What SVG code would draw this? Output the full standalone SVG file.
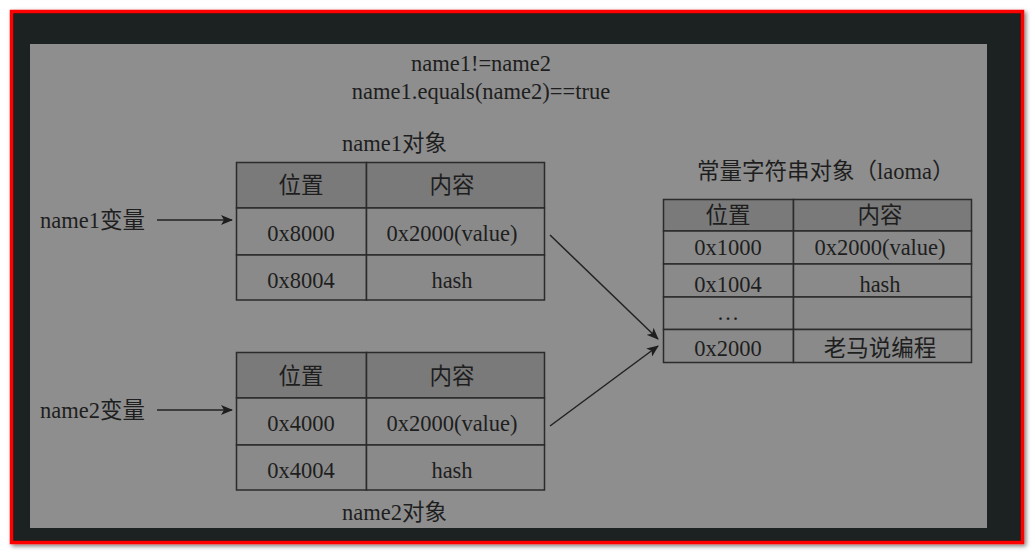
<svg xmlns="http://www.w3.org/2000/svg" width="1035" height="555" viewBox="0 0 1035 555">
<defs>
<style>
.t{font-family:"Liberation Serif","Noto Sans CJK SC",serif;font-size:22.5px;fill:#1e1e1e;text-anchor:middle}
.tl{font-family:"Liberation Serif","Noto Sans CJK SC",serif;font-size:22.5px;fill:#1e1e1e}
.hd{fill:#7a7a7a;stroke:#2b2b2b;stroke-width:1.5}
.cell{fill:#8a8a8a;stroke:#2b2b2b;stroke-width:1.5}
.ln{stroke:#222;stroke-width:1.5;fill:none}
</style>
<marker id="ah" markerWidth="12" markerHeight="10" refX="11" refY="5" orient="auto" markerUnits="userSpaceOnUse">
<path d="M0,0 L12,5 L0,10 L3,5 Z" fill="#1e1e1e"/>
</marker>
<filter id="sh" x="-5%" y="-5%" width="110%" height="110%"><feDropShadow dx="2" dy="2" stdDeviation="2" flood-color="#000" flood-opacity="0.5"/></filter>
</defs>
<rect width="1035" height="555" fill="#ffffff"/>
<rect x="11.5" y="11.5" width="1011" height="531" fill="#1f2022" stroke="#ff0000" stroke-width="3.5" filter="url(#sh)"/>
<rect x="30" y="44" width="957" height="484" fill="#8e8e8e"/>

<g id="title">
<text class="t" x="481" y="71">name1!=name2</text>
<text class="t" x="481" y="99">name1.equals(name2)==true</text>
</g>

<g id="name1obj">
<text class="tl" x="342" y="151">name1对象</text>
<rect class="hd" x="236.5" y="162.5" width="130" height="45.5"/>
<rect class="hd" x="366.5" y="162.5" width="178" height="45.5"/>
<rect class="cell" x="236.5" y="208" width="130" height="47"/>
<rect class="cell" x="366.5" y="208" width="178" height="47"/>
<rect class="cell" x="236.5" y="255" width="130" height="45"/>
<rect class="cell" x="366.5" y="255" width="178" height="45"/>
<text class="t" x="301" y="193">位置</text>
<text class="t" x="452" y="193">内容</text>
<text class="t" x="301" y="241">0x8000</text>
<text class="t" x="452" y="241">0x2000(value)</text>
<text class="t" x="301" y="288">0x8004</text>
<text class="t" x="452" y="288">hash</text>
</g>

<g id="name2obj">
<rect class="hd" x="236.5" y="352.5" width="130" height="45.5"/>
<rect class="hd" x="366.5" y="352.5" width="178" height="45.5"/>
<rect class="cell" x="236.5" y="398" width="130" height="47"/>
<rect class="cell" x="366.5" y="398" width="178" height="47"/>
<rect class="cell" x="236.5" y="445" width="130" height="45"/>
<rect class="cell" x="366.5" y="445" width="178" height="45"/>
<text class="t" x="301" y="384">位置</text>
<text class="t" x="452" y="384">内容</text>
<text class="t" x="301" y="431">0x4000</text>
<text class="t" x="452" y="431">0x2000(value)</text>
<text class="t" x="301" y="478">0x4004</text>
<text class="t" x="452" y="478">hash</text>
<text class="tl" x="342" y="520">name2对象</text>
</g>

<g id="var1"><text class="tl" x="40" y="228">name1变量</text></g>
<g id="var2"><text class="tl" x="40" y="418">name2变量</text></g>

<g id="strobj">
<text class="tl" x="697" y="179">常量字符串对象（laoma）</text>
<rect class="hd" x="663.5" y="199.5" width="130" height="31.5"/>
<rect class="hd" x="793.5" y="199.5" width="178" height="31.5"/>
<rect class="cell" x="663.5" y="231" width="130" height="33"/>
<rect class="cell" x="793.5" y="231" width="178" height="33"/>
<rect class="cell" x="663.5" y="264" width="130" height="33"/>
<rect class="cell" x="793.5" y="264" width="178" height="33"/>
<rect class="cell" x="663.5" y="297" width="130" height="32.5"/>
<rect class="cell" x="793.5" y="297" width="178" height="32.5"/>
<rect class="cell" x="663.5" y="329.5" width="130" height="33"/>
<rect class="cell" x="793.5" y="329.5" width="178" height="33"/>
<text class="t" x="728" y="223">位置</text>
<text class="t" x="880" y="223">内容</text>
<text class="t" x="728" y="255">0x1000</text>
<text class="t" x="880" y="255">0x2000(value)</text>
<text class="t" x="728" y="292">0x1004</text>
<text class="t" x="880" y="292">hash</text>
<text class="t" x="728" y="320">…</text>
<text class="t" x="728" y="356">0x2000</text>
<text class="t" x="880" y="356">老马说编程</text>
</g>

<g id="connectors">
<line class="ln" x1="157" y1="220" x2="232" y2="220" marker-end="url(#ah)"/>
<line class="ln" x1="157" y1="410" x2="232" y2="410" marker-end="url(#ah)"/>
<line class="ln" x1="550" y1="235" x2="658" y2="339" marker-end="url(#ah)"/>
<line class="ln" x1="550" y1="426" x2="658" y2="346" marker-end="url(#ah)"/>
</g>
</svg>
